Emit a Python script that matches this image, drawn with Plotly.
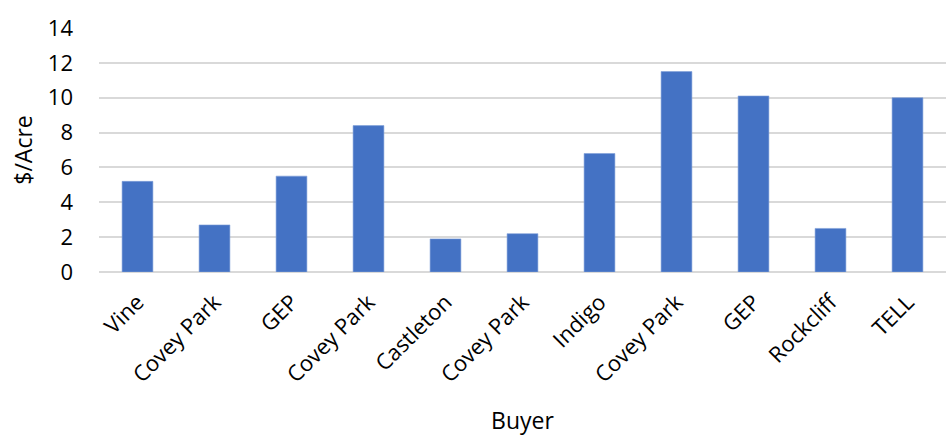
import plotly.graph_objects as go

buyers = ["Vine", "Covey Park", "GEP", "Covey Park", "Castleton", "Covey Park",
          "Indigo", "Covey Park", "GEP", "Rockcliff", "TELL"]
values = [5.2, 2.7, 5.5, 8.4, 1.9, 2.2, 6.8, 11.5, 10.1, 2.5, 10.0]
y_ticks = [0, 2, 4, 6, 8, 10, 12, 14]

positions = list(range(len(buyers)))

fig = go.Figure(go.Bar(
    x=positions, y=values,
    marker=dict(color="#4472C4", line=dict(color="#7f9fd8", width=0.6)),
    width=0.4,
))

font_family = "Open Sans, Noto Sans, DejaVu Sans, sans-serif"

fig.update_layout(
    width=946, height=436,
    margin=dict(l=99, r=0, t=28, b=164),
    plot_bgcolor="white", paper_bgcolor="white",
    font=dict(family=font_family, size=22, color="#000000"),
    showlegend=False,
)
fig.update_xaxes(
    tickmode="array", tickvals=positions, ticktext=buyers,
    tickangle=-45, range=[-0.5, len(buyers) - 0.5],
    showgrid=False, zeroline=False, showline=False,
    ticks="", tickfont=dict(size=22), ticklabelstandoff=12,
    title=dict(text="Buyer", font=dict(size=23), standoff=28),
)
fig.update_yaxes(
    range=[0, 14], tickvals=y_ticks,
    showgrid=True, gridcolor="#D9D9D9", gridwidth=1.5,
    zeroline=True, zerolinecolor="#D9D9D9", zerolinewidth=1.5,
    showline=False, ticks="", ticklabelstandoff=25,
    tickfont=dict(size=22),
    title=dict(text="$/Acre", font=dict(size=23), standoff=8),
)

fig.write_html("out.html")
